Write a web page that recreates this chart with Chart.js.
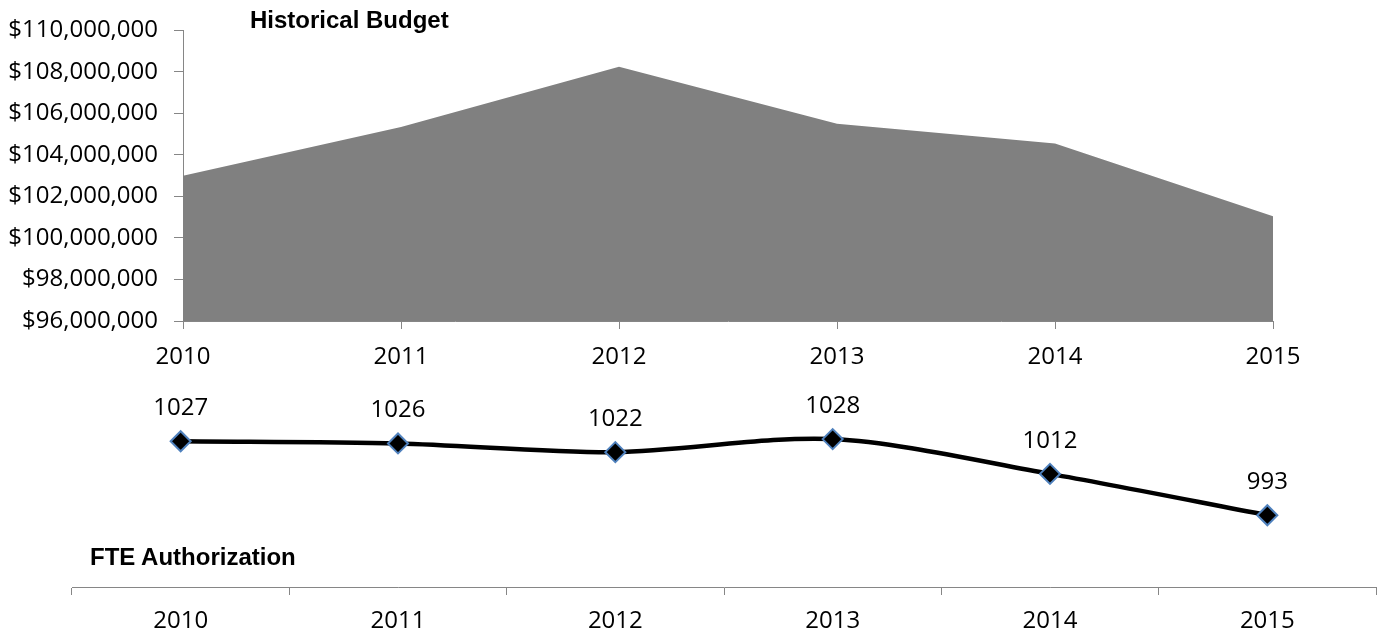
<!DOCTYPE html>
<html>
<head>
<meta charset="utf-8">
<script src="https://cdn.jsdelivr.net/npm/chart.js@4.4.0/dist/chart.umd.min.js"></script>
<style>
  body { margin: 0; background: #fff; width: 1388px; height: 634px; position: relative; overflow: hidden; }
  .box { position: absolute; left: 0; width: 1388px; }
  #topBox { top: 0; height: 380px; }
  #bottomBox { top: 380px; height: 254px; }
  .title { position: absolute; font-family: "Liberation Sans", Arial, sans-serif; font-weight: bold; font-size: 24px; color: #000; }
</style>
</head>
<body>
<div class="box" id="topBox"><canvas id="budgetChart"></canvas></div>
<div class="box" id="bottomBox"><canvas id="fteChart"></canvas></div>
<div class="title" style="left:250px; top:6px;">Historical Budget</div>
<div class="title" style="left:90px; top:543px;">FTE Authorization</div>
<script>
const years = ['2010', '2011', '2012', '2013', '2014', '2015'];
const budget = [103000000, 105350000, 108250000, 105500000, 104550000, 101050000];
const fte = [1027, 1026, 1022, 1028, 1012, 993];

const axisGrey = '#868686';
const tickFont = { family: '"Open Sans", sans-serif', size: 24 };

// budget chart (area)
new Chart(document.getElementById('budgetChart'), {
  type: 'line',
  data: {
    labels: years,
    datasets: [{
      data: budget,
      fill: 'start',
      backgroundColor: '#808080',
      borderWidth: 0,
      pointRadius: 0,
      tension: 0
    }]
  },
  options: {
    responsive: true,
    maintainAspectRatio: false,
    animation: false,
    layout: { padding: { top: 30, right: 115, left: 0, bottom: 0 } },
    plugins: { legend: { display: false }, tooltip: { enabled: false } },
    scales: {
      x: {
        offset: false,
        border: { color: axisGrey, width: 1 },
        grid: { drawOnChartArea: false, tickLength: 8, color: axisGrey },
        ticks: { color: '#000', font: tickFont, padding: 14, maxRotation: 0 },
        afterFit: s => { s.height = 59; }
      },
      y: {
        min: 96000000,
        max: 110000000,
        border: { color: axisGrey, width: 1 },
        grid: { drawOnChartArea: false, tickLength: 9, color: axisGrey },
        ticks: {
          stepSize: 2000000,
          color: '#000',
          font: tickFont,
          padding: 16,
          callback: v => '$' + v.toLocaleString('en-US')
        },
        afterFit: s => { s.width = 183; }
      }
    }
  }
});

// labels above FTE points
const labelPlugin = {
  id: 'pointLabels',
  afterDatasetsDraw(chart) {
    const ctx = chart.ctx;
    const meta = chart.getDatasetMeta(0);
    ctx.save();
    ctx.font = '24px "Open Sans", sans-serif';
    ctx.fillStyle = '#000';
    ctx.textAlign = 'center';
    ctx.textBaseline = 'middle';
    meta.data.forEach((pt, i) => {
      ctx.fillText(String(chart.data.datasets[0].data[i]), pt.x, pt.y - 33);
    });
    ctx.restore();
  }
};

new Chart(document.getElementById('fteChart'), {
  type: 'line',
  data: {
    labels: years,
    datasets: [{
      data: fte,
      borderColor: '#000',
      borderWidth: 4.5,
      tension: 0.3,
      fill: false,
      pointStyle: 'rectRot',
      pointRadius: 10,
      pointBackgroundColor: '#000',
      pointBorderColor: '#4F81BD',
      pointBorderWidth: 2,
      clip: false
    }]
  },
  plugins: [labelPlugin],
  options: {
    responsive: true,
    maintainAspectRatio: false,
    animation: false,
    layout: { padding: { top: 33, right: 8, left: 72, bottom: 0 } },
    plugins: { legend: { display: false }, tooltip: { enabled: false } },
    scales: {
      x: {
        offset: true,
        border: { color: axisGrey, width: 1 },
        grid: { offset: true, drawOnChartArea: false, tickLength: 8, color: axisGrey },
        ticks: { color: '#000', font: tickFont, padding: 12, maxRotation: 0 },
        afterFit: s => { s.height = 47; }
      },
      y: {
        display: false,
        min: 960,
        max: 1040
      }
    }
  }
});
</script>
</body>
</html>
